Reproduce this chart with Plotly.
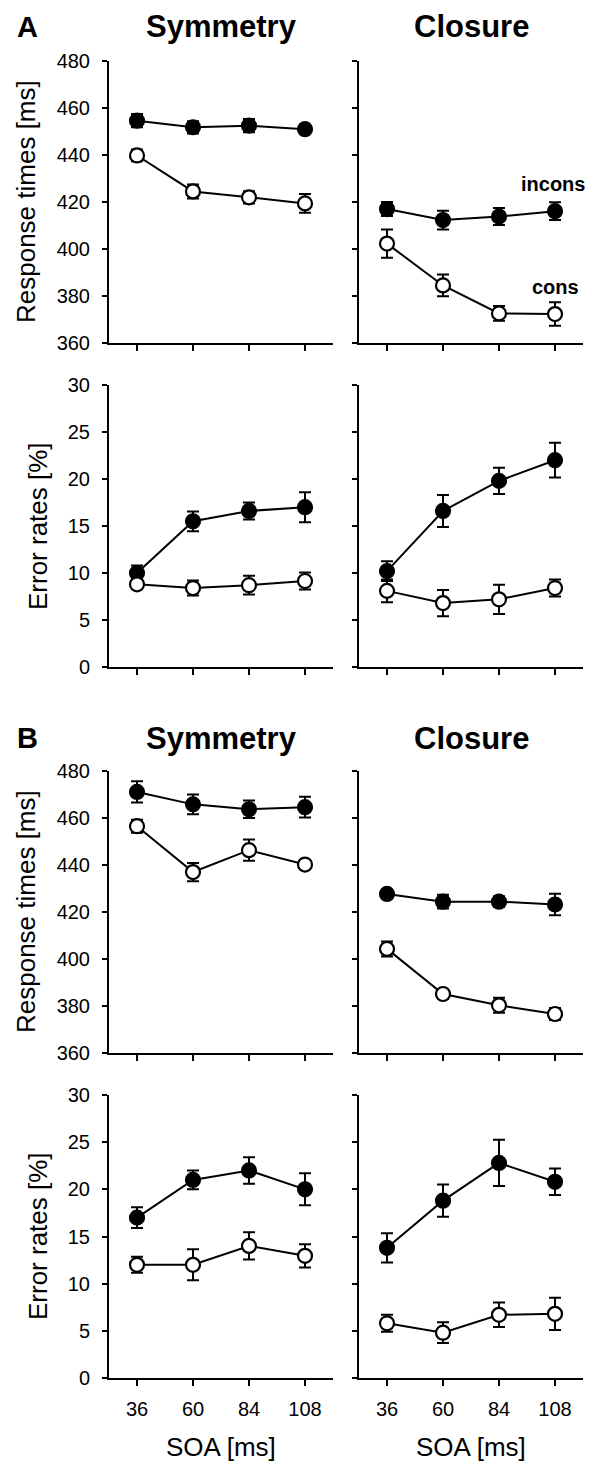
import plotly.graph_objects as go

# ---------------- data ----------------
soa = [36, 60, 84, 108]
soa_ticks = ["36", "60", "84", "108"]

# Experiment A
A_sym_rt_incons = [454.6, 451.8, 452.5, 451.0]
A_sym_rt_incons_err = [2.8, 2.6, 2.8, 2.0]
A_sym_rt_cons = [439.8, 424.5, 422.0, 419.4]
A_sym_rt_cons_err = [2.5, 3.0, 2.6, 4.0]

A_clo_rt_incons = [417.0, 412.3, 413.8, 416.1]
A_clo_rt_incons_err = [3.0, 4.0, 3.6, 3.8]
A_clo_rt_cons = [402.3, 384.5, 372.6, 372.3]
A_clo_rt_cons_err = [6.0, 4.6, 3.1, 5.0]

A_sym_er_incons = [10.0, 15.5, 16.6, 17.0]
A_sym_er_incons_err = [0.8, 1.05, 0.9, 1.6]
A_sym_er_cons = [8.8, 8.4, 8.7, 9.15]
A_sym_er_cons_err = [0.5, 0.8, 1.0, 0.9]

A_clo_er_incons = [10.2, 16.6, 19.8, 22.0]
A_clo_er_incons_err = [1.06, 1.7, 1.4, 1.85]
A_clo_er_cons = [8.1, 6.8, 7.2, 8.4]
A_clo_er_cons_err = [1.2, 1.4, 1.55, 0.9]

# Experiment B
B_sym_rt_incons = [471.1, 465.8, 463.7, 464.6]
B_sym_rt_incons_err = [4.5, 4.2, 3.7, 4.4]
B_sym_rt_cons = [456.5, 437.0, 446.3, 440.2]
B_sym_rt_cons_err = [2.8, 3.9, 4.5, 1.2]

B_clo_rt_incons = [427.7, 424.4, 424.4, 423.2]
B_clo_rt_incons_err = [1.0, 2.9, 2.3, 4.6]
B_clo_rt_cons = [404.3, 385.1, 380.3, 376.6]
B_clo_rt_cons_err = [3.2, 2.0, 3.2, 2.6]

B_sym_er_incons = [17.0, 21.0, 22.0, 20.0]
B_sym_er_incons_err = [1.1, 1.0, 1.4, 1.7]
B_sym_er_cons = [12.0, 12.0, 14.0, 12.95]
B_sym_er_cons_err = [0.85, 1.65, 1.45, 1.24]

B_clo_er_incons = [13.8, 18.8, 22.8, 20.8]
B_clo_er_incons_err = [1.55, 1.7, 2.45, 1.4]
B_clo_er_cons = [5.8, 4.8, 6.7, 6.8]
B_clo_er_cons_err = [0.9, 1.1, 1.3, 1.7]

rt_ticks = [360, 380, 400, 420, 440, 460, 480]
er_ticks = [0, 5, 10, 15, 20, 25, 30]

# ---------------- layout geometry (pixels) ----------------
W, H = 590, 1470
FONT = "Liberation Sans, Arial, Helvetica, sans-serif"

col_px = [(109, 333), (359, 583)]
row_px = [(61, 343), (385, 667), (771, 1053), (1095, 1378)]

def px_x(a, b):
    return [a / W, b / W]

def px_y(top, bottom):
    return [1 - bottom / H, 1 - top / H]

panels = [
    (0, 0, A_sym_rt_incons, A_sym_rt_incons_err, A_sym_rt_cons, A_sym_rt_cons_err, "rt"),
    (0, 1, A_clo_rt_incons, A_clo_rt_incons_err, A_clo_rt_cons, A_clo_rt_cons_err, "rt"),
    (1, 0, A_sym_er_incons, A_sym_er_incons_err, A_sym_er_cons, A_sym_er_cons_err, "er"),
    (1, 1, A_clo_er_incons, A_clo_er_incons_err, A_clo_er_cons, A_clo_er_cons_err, "er"),
    (2, 0, B_sym_rt_incons, B_sym_rt_incons_err, B_sym_rt_cons, B_sym_rt_cons_err, "rt"),
    (2, 1, B_clo_rt_incons, B_clo_rt_incons_err, B_clo_rt_cons, B_clo_rt_cons_err, "rt"),
    (3, 0, B_sym_er_incons, B_sym_er_incons_err, B_sym_er_cons, B_sym_er_cons_err, "er"),
    (3, 1, B_clo_er_incons, B_clo_er_incons_err, B_clo_er_cons, B_clo_er_cons_err, "er"),
]

fig = go.Figure()
layout = {}

for i, (r, c, inc, inc_e, con, con_e, kind) in enumerate(panels):
    n = i + 1
    xa = "xaxis" if n == 1 else f"xaxis{n}"
    ya = "yaxis" if n == 1 else f"yaxis{n}"
    xr = "x" if n == 1 else f"x{n}"
    yr = "y" if n == 1 else f"y{n}"

    for vals, errs, fill in [(inc, inc_e, "black"), (con, con_e, "white")]:
        fig.add_trace(go.Scatter(
            x=soa, y=vals, xaxis=xr, yaxis=yr, mode="lines+markers",
            line=dict(color="black", width=2),
            marker=dict(symbol="circle", size=14, color=fill,
                        line=dict(color="black", width=2.2)),
            error_y=dict(type="data", array=errs, visible=True,
                         color="black", thickness=2, width=6),
            showlegend=False, cliponaxis=False,
        ))

    bottom_row = (r == 3)
    layout[xa] = dict(
        domain=px_x(*col_px[c]), anchor=yr, range=[24, 120],
        tickmode="array", tickvals=soa, ticktext=soa_ticks,
        showticklabels=bottom_row, ticks="outside", ticklen=6,
        tickwidth=1.5, tickcolor="black", showline=True, linecolor="black",
        linewidth=2, showgrid=False, zeroline=False, automargin=False,
        tickfont=dict(family=FONT, size=20, color="black"),
        ticklabelstandoff=6,
    )
    if kind == "rt":
        rng, tv = [360, 480], rt_ticks
    else:
        rng, tv = [0, 30], er_ticks
    layout[ya] = dict(
        domain=px_y(*row_px[r]), anchor=xr, range=rng,
        tickmode="array", tickvals=tv, showticklabels=(c == 0),
        ticks="outside", ticklen=5, tickwidth=1.5, tickcolor="black",
        showline=True, linecolor="black", linewidth=2,
        showgrid=False, zeroline=False, automargin=False,
        tickfont=dict(family=FONT, size=20, color="black"),
        ticklabelstandoff=8,
    )

annotations = []

def ann(text, x, y, size, bold=False, angle=0, xanchor="center", yanchor="middle"):
    annotations.append(dict(
        text=f"<b>{text}</b>" if bold else text,
        x=x / W, y=1 - y / H, xref="paper", yref="paper",
        xanchor=xanchor, yanchor=yanchor, showarrow=False, textangle=angle,
        font=dict(family=FONT, size=size, color="black"),
    ))

ann("A", 27, 27, 29, bold=True)
ann("Symmetry", 221, 27, 31, bold=True)
ann("Closure", 471, 27, 31, bold=True)
ann("B", 27, 738, 29, bold=True)
ann("Symmetry", 221, 738, 31, bold=True)
ann("Closure", 471, 738, 31, bold=True)

ann("Response times [ms]", 26, 202, 26, angle=-90)
ann("Error rates [%]", 38, 526, 26, angle=-90)
ann("Response times [ms]", 26, 912, 26, angle=-90)
ann("Error rates [%]", 38, 1236, 26, angle=-90)

ann("SOA [ms]", 221, 1447, 26)
ann("SOA [ms]", 471, 1447, 26)

ann("incons", 553, 184, 20, bold=True)
ann("cons", 555, 287, 20, bold=True)

fig.update_layout(
    width=W, height=H, margin=dict(l=0, r=0, t=0, b=0, pad=0),
    paper_bgcolor="white", plot_bgcolor="white", template="none",
    annotations=annotations, **layout,
)

fig.write_html(
    "out.html",
    config={"displayModeBar": False},
    post_script="document.body.style.margin='0';document.body.style.padding='0';",
)
